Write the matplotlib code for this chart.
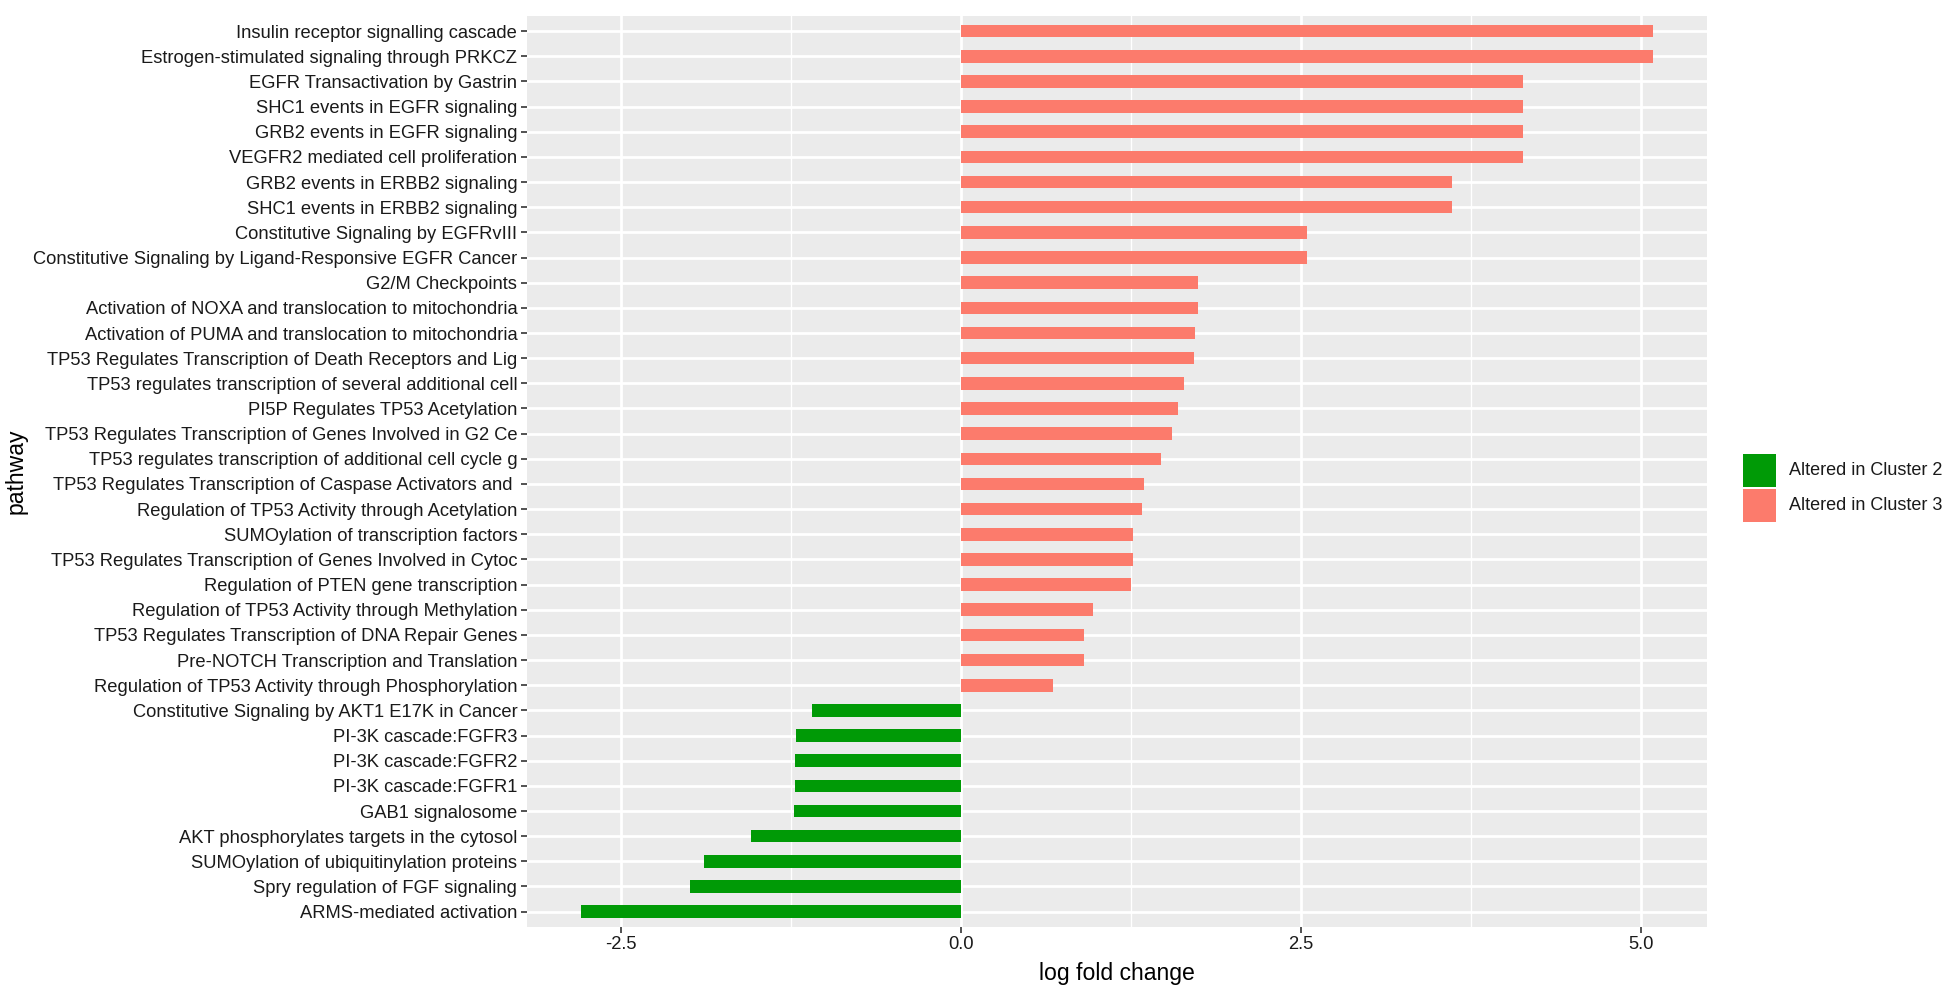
import matplotlib
matplotlib.use("Agg")
import matplotlib.pyplot as plt
from matplotlib.patches import Rectangle

plt.rcParams['font.family'] = ['Liberation Sans', 'DejaVu Sans']
plt.rcParams['axes.unicode_minus'] = False

# pathways, top to bottom
pathways = [
    "Insulin receptor signalling cascade",
    "Estrogen-stimulated signaling through PRKCZ",
    "EGFR Transactivation by Gastrin",
    "SHC1 events in EGFR signaling",
    "GRB2 events in EGFR signaling",
    "VEGFR2 mediated cell proliferation",
    "GRB2 events in ERBB2 signaling",
    "SHC1 events in ERBB2 signaling",
    "Constitutive Signaling by EGFRvIII",
    "Constitutive Signaling by Ligand-Responsive EGFR Cancer",
    "G2/M Checkpoints",
    "Activation of NOXA and translocation to mitochondria",
    "Activation of PUMA and translocation to mitochondria",
    "TP53 Regulates Transcription of Death Receptors and Lig",
    "TP53 regulates transcription of several additional cell",
    "PI5P Regulates TP53 Acetylation",
    "TP53 Regulates Transcription of Genes Involved in G2 Ce",
    "TP53 regulates transcription of additional cell cycle g",
    "TP53 Regulates Transcription of Caspase Activators and ",
    "Regulation of TP53 Activity through Acetylation",
    "SUMOylation of transcription factors",
    "TP53 Regulates Transcription of Genes Involved in Cytoc",
    "Regulation of PTEN gene transcription",
    "Regulation of TP53 Activity through Methylation",
    "TP53 Regulates Transcription of DNA Repair Genes",
    "Pre-NOTCH Transcription and Translation",
    "Regulation of TP53 Activity through Phosphorylation",
    "Constitutive Signaling by AKT1 E17K in Cancer",
    "PI-3K cascade:FGFR3",
    "PI-3K cascade:FGFR2",
    "PI-3K cascade:FGFR1",
    "GAB1 signalosome",
    "AKT phosphorylates targets in the cytosol",
    "SUMOylation of ubiquitinylation proteins",
    "Spry regulation of FGF signaling",
    "ARMS-mediated activation",
]

log_fc = [
    5.09, 5.09, 4.13, 4.13, 4.13, 4.13, 3.61, 3.61, 2.54, 2.54,
    1.745, 1.745, 1.723, 1.711, 1.642, 1.598, 1.551, 1.468, 1.343, 1.333,
    1.262, 1.262, 1.252, 0.966, 0.907, 0.907, 0.676,
    -1.093, -1.211, -1.221, -1.221, -1.230, -1.542, -1.887, -1.990, -2.797,
]

cluster = ["Altered in Cluster 3"] * 27 + ["Altered in Cluster 2"] * 9

legend_labels = ["Altered in Cluster 2", "Altered in Cluster 3"]
colors = {"Altered in Cluster 2": "#009A06", "Altered in Cluster 3": "#FC7B6C"}

W, H = 1950, 988
fig = plt.figure(figsize=(W / 100, H / 100), dpi=100)
ax = fig.add_axes([0.2703, 0.062, 0.6051, 0.9218])
ax.set_facecolor("#EBEBEB")

n = len(pathways)
ypos = [n - 1 - i for i in range(n)]
ax.barh(ypos, log_fc, height=0.5, color=[colors[c] for c in cluster], zorder=3)

ax.set_yticks(ypos)
ax.set_yticklabels(pathways, fontsize=13.2, color="#1A1A1A")
ax.set_ylim(-0.6, n - 1 + 0.6)

lo, hi = min(log_fc), max(log_fc)
pad = (hi - lo) * 0.05
ax.set_xlim(lo - pad, hi + pad)
ax.set_xticks([-2.5, 0.0, 2.5, 5.0])
ax.set_xticklabels(["-2.5", "0.0", "2.5", "5.0"], fontsize=13.2, color="#1A1A1A")
ax.set_xticks([-1.25, 1.25, 3.75], minor=True)

ax.grid(True, which="major", color="white", linewidth=2.0, zorder=0)
ax.grid(True, which="minor", axis="x", color="white", linewidth=1.0, zorder=0)
ax.set_axisbelow(True)
ax.tick_params(axis="both", which="major", length=4, width=1.2, color="#333333", pad=3)
ax.tick_params(axis="x", which="minor", length=0)
for s in ax.spines.values():
    s.set_visible(False)

ax.set_xlabel("log fold change", fontsize=16.6, labelpad=6)
ax.set_ylabel("pathway", fontsize=16.6)
ax.yaxis.set_label_coords(-0.4237, 0.5)

# legend (keys drawn in figure pixel space)
key_x, key_w, key_h = 1743, 33, 33
key_tops = [454, 489]
for lab, top in zip(legend_labels, key_tops):
    fig.add_artist(Rectangle((key_x / W, 1 - (top + key_h) / H), key_w / W, key_h / H,
                             transform=fig.transFigure, facecolor=colors[lab],
                             edgecolor="none"))
    fig.text(1789 / W, 1 - (top + key_h / 2) / H, lab, fontsize=13,
             va="center", ha="left", color="#1A1A1A")

fig.savefig("out.png", dpi=100)
